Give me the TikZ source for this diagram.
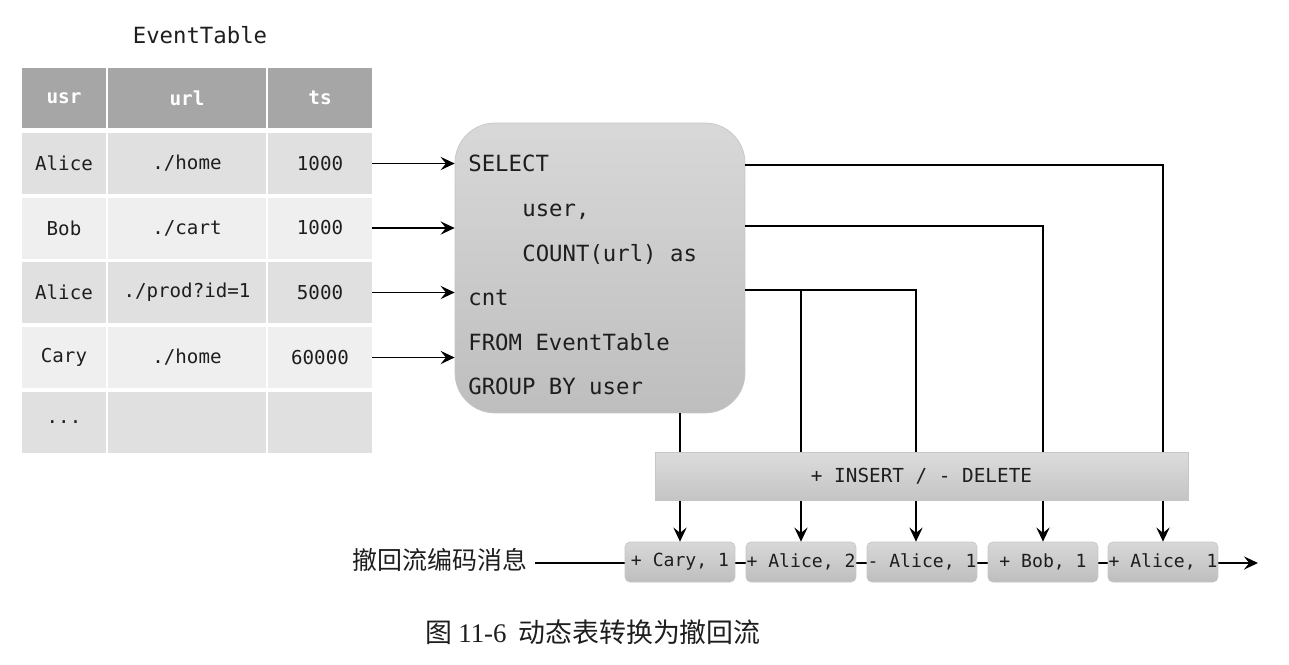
\documentclass[tikz,border=0pt]{standalone}
\usepackage{fontspec}
\setmonofont{DejaVu Sans Mono}
\newfontfamily\cjk{Noto Sans CJK SC}
\newfontfamily\capserif{Liberation Serif}
\usetikzlibrary{arrows.meta,positioning,calc}
\definecolor{hdrgray}{HTML}{A6A6A6}
\definecolor{rowdark}{HTML}{E0E0E0}
\definecolor{rowlight}{HTML}{EFEFEF}
\definecolor{txtgray}{HTML}{1E1E1E}
\definecolor{boxtop}{HTML}{D8D8D8}
\definecolor{boxbot}{HTML}{BEBEBE}
\definecolor{boxedge}{HTML}{C6C6C6}

\begin{document}
\begin{tikzpicture}[x=0.02cm, y=-0.02cm, text=txtgray,
    cell/.style={inner sep=0, minimum height=1.22cm, font=\fontsize{10.9}{13}\ttfamily},
    hdr/.style={cell, fill=hdrgray, minimum height=1.2cm, text=white, font=\fontsize{11}{13}\ttfamily\bfseries},
    sqlbox/.style={rounded corners=0.8cm, minimum width=5.8cm, minimum height=5.8cm,
      top color=boxtop, bottom color=boxbot, draw=boxedge},
    sqlline/.style={anchor=base west, inner sep=0, font=\fontsize{12.7}{15}\ttfamily},
    barbox/.style={minimum width=10.66cm, minimum height=0.96cm, inner sep=0,
      top color=boxtop!90!white, bottom color=boxbot!90!white, draw=boxedge,
      font=\fontsize{11}{13}\ttfamily},
    msgbox/.style={rounded corners=0.1cm, minimum width=2.2cm, minimum height=0.8cm, inner sep=0,
      top color=boxtop, bottom color=boxbot, draw=boxedge, font=\fontsize{10.3}{12}\ttfamily},
    arr/.style={-{Stealth[length=8pt,width=7.5pt,inset=3pt]}, line width=1.1pt},
    link/.style={line width=1.1pt}]
  \useasboundingbox (0,0) rectangle (1289,664);

  % tabelle
  \node[font=\fontsize{12.7}{15}\ttfamily] (title) at (200,35) {EventTable};
  \foreach \nm/\x/\w/\s in {hu/64/1.68/usr, hl/187/3.16/url, ht/320/2.08/ts}
    \node[hdr, minimum width=\w cm] (\nm) at (\x,98) {\s};
  \foreach \nm/\y/\u/\l/\t/\fc in {r1/163.5/Alice/{./home}/1000/rowdark,
      r2/228/Bob/{./cart}/1000/rowlight, r3/292.5/Alice/{./prod?id=1}/5000/rowdark,
      r4/357.5/Cary/{./home}/60000/rowlight, r5/422/{...}/{}/{}/rowdark} {
    \node[cell, fill=\fc, minimum width=1.68cm] (\nm-u) at (64,\y) {\u};
    \node[cell, fill=\fc, minimum width=3.16cm] (\nm-l) at (187,\y) {\l};
    \node[cell, fill=\fc, minimum width=2.08cm] (\nm-t) at (320,\y) {\t};
  }

  % abfrage
  \node[sqlbox] (sql) at (600,268) {};
  \foreach \x/\y/\s [count=\i] in {468/171/SELECT, 522/216/{user,}, 522/261/{COUNT(url) as},
      468/305/cnt, 468/350/{FROM EventTable}, 468/394/{GROUP BY user}}
    \node[sqlline] (q\i) at (\x,\y) {\s};
  \foreach \r in {r1,r2,r3,r4}
    \draw[arr] (\r-t.east) -- (sql.west |- \r-t.east);

  % strom
  \node[font=\fontsize{14.2}{17}\cjk, anchor=east, inner sep=4pt] (lbl) at (535,560) {撤回流编码消息};
  \coordinate (strend) at (1258,563);
  \draw[arr] (lbl.east |- strend) -- (strend);
  \foreach \nm/\x/\s in {s1/680/{+ Cary, 1}, s2/801/{+ Alice, 2}, s3/922/{- Alice, 1},
      s4/1043/{+ Bob, 1}, s5/1163/{+ Alice, 1}}
    \node[msgbox] (\nm) at (\x,562) {\s};

  % verbindungen
  \draw[arr] (sql.south -| s1.north) -- (s1.north);
  \coordinate (split) at (s2.north |- 0,290);
  \draw[arr] (split) -- (s2.north);
  \draw[arr] (sql.east |- split) -| ([xshift=-0.12cm]s3.north);
  \draw[arr] (sql.east |- 0,226) -| (s4.north);
  \draw[arr] (sql.east |- 0,165) -| (s5.north);

  \node[barbox] (bar) at (921.5,476) {+ INSERT / - DELETE};

  \node[font=\fontsize{15.3}{18}\cjk] (cap) at (593,632) {图 {\capserif 11-6}\ \ 动态表转换为撤回流};
\end{tikzpicture}
\end{document}
